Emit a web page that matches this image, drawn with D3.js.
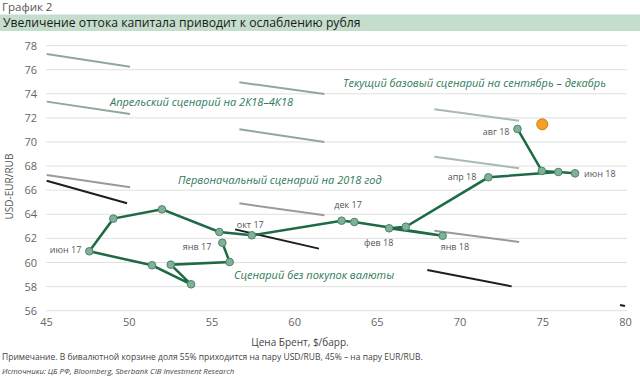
<!DOCTYPE html>
<html>
<head>
<meta charset="utf-8">
<script src="https://cdn.jsdelivr.net/npm/d3@7"></script>
<style>
  body { margin: 0; background: #fff; font-family: "Open Sans", sans-serif; }
</style>
</head>
<body>
<div id="chart"></div>
<script>
// brent price ($/bbl) vs basket rate, monthly path
var months = ["янв 17", "фев 17", "мар 17", "апр 17", "май 17", "июн 17", "июл 17", "авг 17", "сен 17", "окт 17",
  "ноя 17", "дек 17", "янв 18", "фев 18", "мар 18", "апр 18", "май 18", "июн 18", "июл 18", "авг 18"];
var brent = [55.66, 56.1, 52.54, 53.77, 51.41, 47.62, 49.07, 52.01, 55.48, 57.44,
  62.87, 63.64, 68.98, 65.74, 66.75, 71.74, 75.97, 76.98, 74.97, 73.5];
var basket = [61.64, 60.04, 59.82, 58.19, 59.77, 60.93, 63.64, 64.41, 62.53, 62.26,
  63.47, 63.36, 62.22, 62.84, 62.97, 67.07, 67.51, 67.4, 67.6, 71.08];

// labelled months
var shownLabels = ["янв 17", "июн 17", "окт 17", "дек 17", "янв 18", "фев 18", "апр 18", "июн 18", "авг 18"];

// forecast point
var forecast = [75.0, 71.47];

// scenario segments [x1, y1, x2, y2]
var aprilLines = [[45.04, 77.3, 50.08, 76.25], [45.04, 73.35, 50.08, 72.32],
  [56.69, 74.95, 61.83, 73.98], [56.69, 71.05, 61.83, 70.0]];
var currentLines = [[68.48, 72.71, 73.6, 71.77], [68.48, 68.78, 73.6, 67.82]];
var initialLines = [[45.04, 67.26, 50.08, 66.24], [56.69, 64.91, 61.83, 63.92], [68.48, 62.64, 73.6, 61.7]];
var noBuyLines = [[45.04, 66.79, 49.9, 64.91], [56.43, 62.75, 61.5, 61.15], [68.05, 59.38, 73.15, 58.02], [79.7, 56.47, 80, 56.39]];

var yTicks = [56, 58, 60, 62, 64, 66, 68, 70, 72, 74, 76, 78];
var xTicks = [45, 50, 55, 60, 65, 70, 75, 80];

var width = 640, height = 383;
var svg = d3.select("#chart").append("svg")
    .attr("width", width).attr("height", height);

var x = d3.scaleLinear().domain([45, 80]).range([46, 625]);
var y = d3.scaleLinear().domain([56, 78]).range([310.7, 45.6]);

// header
svg.append("text").attr("x", 2).attr("y", 11)
    .style("font-size", "11.5px").style("fill", "#555")
    .text("График 2");
svg.append("rect").attr("x", 0).attr("y", 14.5).attr("width", width).attr("height", 16.5)
    .attr("fill", "#c4ddcc");
svg.append("text").attr("x", 3).attr("y", 27)
    .style("font-size", "12.2px").style("fill", "#1a1a1a")
    .text("Увеличение оттока капитала приводит к ослаблению рубля");

// grid
svg.append("g").selectAll("line").data(yTicks).join("line")
    .attr("x1", x(45)).attr("x2", 627)
    .attr("y1", d => y(d)).attr("y2", d => y(d))
    .attr("stroke", "#e0e0e0").attr("stroke-width", 1);

var yAxis = svg.append("g").attr("transform", "translate(" + x(45) + ",0)")
    .call(d3.axisLeft(y).tickValues(yTicks).tickSize(0).tickPadding(9));
yAxis.select(".domain").remove();
yAxis.selectAll("text").style("font-size", "11px").style("fill", "#666").style("font-family", "Open Sans");

var xAxis = svg.append("g").attr("transform", "translate(0," + y(56) + ")")
    .call(d3.axisBottom(x).tickValues(xTicks).tickSize(0).tickPadding(8));
xAxis.select(".domain").remove();
xAxis.selectAll("text").style("font-size", "11px").style("fill", "#666").style("font-family", "Open Sans");

svg.append("text")
    .attr("transform", "translate(13," + y(66.3) + ") rotate(-90)")
    .attr("text-anchor", "middle")
    .style("font-size", "10px").style("fill", "#555")
    .text("USD-EUR/RUB");
svg.append("text").attr("x", 300).attr("y", 346).attr("text-anchor", "middle")
    .style("font-size", "10px").style("fill", "#444")
    .text("Цена Брент, $/барр.");

// scenario segments
function segs(data, color, w) {
    svg.append("g").selectAll("line").data(data).join("line")
        .attr("x1", d => x(d[0])).attr("y1", d => y(d[1]))
        .attr("x2", d => x(d[2])).attr("y2", d => y(d[3]))
        .attr("stroke", color).attr("stroke-width", w);
}
segs(aprilLines, "#8fa89b", 2);
segs(currentLines, "#a7bab0", 2);
segs(initialLines, "#9a9a9a", 2);
segs(noBuyLines, "#1e1e1e", 2);

// annotations
var ann = [
    ["Апрельский сценарий на 2К18–4К18", 110, 106],
    ["Текущий базовый сценарий на сентябрь – декабрь", 343, 87],
    ["Первоначальный сценарий на 2018 год", 178, 184],
    ["Сценарий без покупок валюты", 234, 279]
];
svg.append("g").selectAll("text").data(ann).join("text")
    .attr("x", d => d[1]).attr("y", d => d[2])
    .style("font-size", "11px").style("font-style", "italic").style("fill", "#2f7a58")
    .text(d => d[0]);

// path
var pts = brent.map((b, i) => [b, basket[i], months[i]]);
svg.append("path").datum(pts)
    .attr("fill", "none").attr("stroke", "#1d6a45").attr("stroke-width", 2.5)
    .attr("d", d3.line().x(d => x(d[0])).y(d => y(d[1])));
svg.append("g").selectAll("circle").data(pts).join("circle")
    .attr("cx", d => x(d[0])).attr("cy", d => y(d[1])).attr("r", 3.8)
    .attr("fill", "#80b196").attr("stroke", "#4a8466").attr("stroke-width", 1);

// month labels: [dx, dy, anchor]
var labelPos = {
    "янв 17": [-11, 7, "end"], "июн 17": [-8, 2, "end"], "окт 17": [-15, -7, "start"],
    "дек 17": [-20, -14, "start"], "янв 18": [-2, 14, "start"], "фев 18": [-25, 18, "start"],
    "апр 18": [-12, 3, "end"], "июн 18": [9, 4, "start"], "авг 18": [-8, 6, "end"]
};
svg.append("g").selectAll("text").data(pts.filter(d => shownLabels.includes(d[2]))).join("text")
    .attr("x", d => x(d[0]) + labelPos[d[2]][0])
    .attr("y", d => y(d[1]) + labelPos[d[2]][1])
    .attr("text-anchor", d => labelPos[d[2]][2])
    .style("font-size", "9px").style("fill", "#555")
    .text(d => d[2]);

svg.append("circle").attr("cx", x(forecast[0])).attr("cy", y(forecast[1])).attr("r", 5.5)
    .attr("fill", "#f4a025").attr("stroke", "#c77a10").attr("stroke-width", 1);

// notes
svg.append("text").attr("x", 2).attr("y", 360)
    .style("font-size", "8.5px").style("fill", "#444")
    .text("Примечание. В бивалютной корзине доля 55% приходится на пару USD/RUB, 45% – на пару EUR/RUB.");
svg.append("text").attr("x", 2).attr("y", 374)
    .style("font-size", "7.8px").style("font-style", "italic").style("fill", "#444")
    .text("Источники: ЦБ РФ, Bloomberg, Sberbank CIB Investment Research");
</script>
</body>
</html>
